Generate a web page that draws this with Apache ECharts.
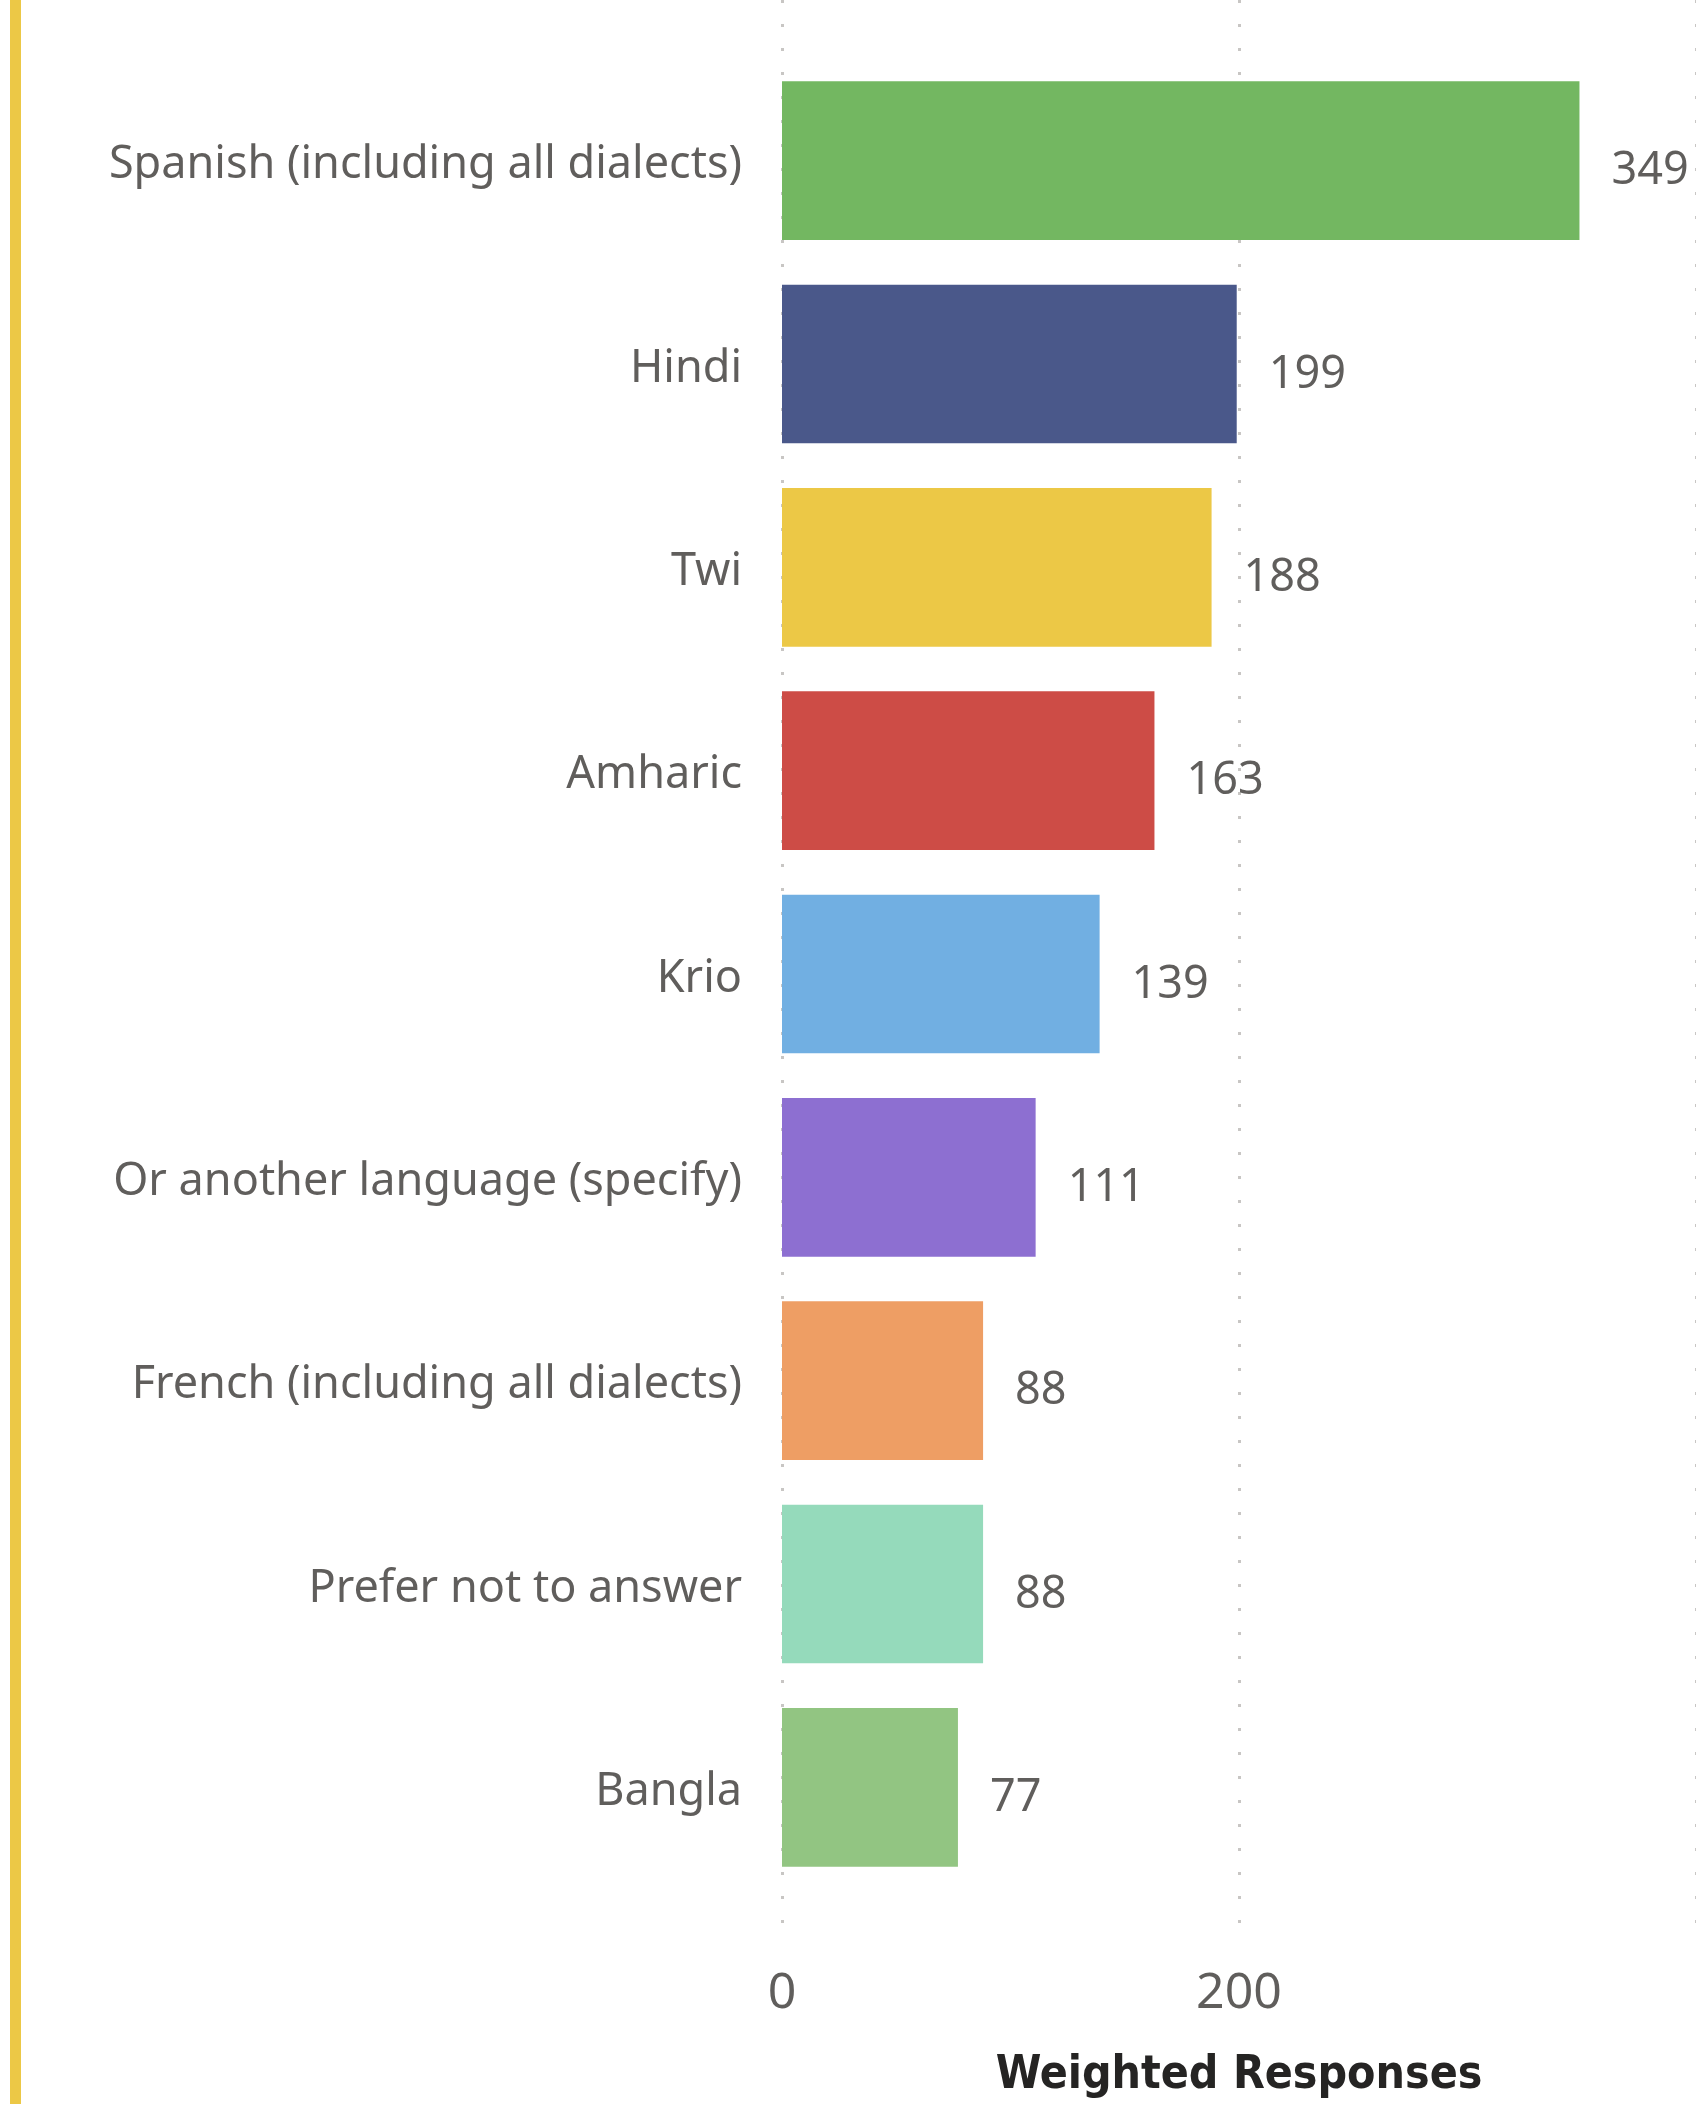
<!DOCTYPE html>
<html><head><meta charset="utf-8">
<script src="https://cdn.jsdelivr.net/npm/echarts@6/dist/echarts.min.js"></script>
<style>html,body{margin:0;padding:0;background:#fff}#c{width:1696px;height:2104px}</style>
</head><body><div id="c"></div>
<script>
const categories = ["Spanish (including all dialects)","Hindi","Twi","Amharic","Krio","Or another language (specify)","French (including all dialects)","Prefer not to answer","Bangla"];
const values = [349,199,188,163,139,111,88,88,77];
const colors = ["#73B761","#4A588A","#ECC846","#CD4C46","#71AFE2","#8D6FD1","#EE9E64","#95DABB","#92C582"];
const axisMax = 400;
const tickInterval = 200;
const axisTitle = "Weighted Responses";

const chart = echarts.init(document.getElementById('c'));
const font = "'Noto Sans', 'Open Sans', sans-serif";
chart.setOption({
  animation:false,
  graphic:[{type:'rect',left:10,top:0,shape:{width:11,height:2104},style:{fill:'#ECC846'}}],
  grid:[
    {left:782,top:59,width:918,height:1830},
    {left:782,top:0,width:918,height:1952}
  ],
  xAxis:[
    {gridIndex:0,type:'value',min:0,max:axisMax,interval:tickInterval,show:false,splitLine:{show:false}},
    {gridIndex:1,type:'value',min:0,max:axisMax,interval:tickInterval,
     axisLine:{show:false},axisTick:{show:false},
     splitLine:{show:true,lineStyle:{color:'#C8C6C4',width:3,type:[3,21]}},
     axisLabel:{showMaxLabel:false,color:'#605E5C',fontSize:50,fontFamily:font,margin:30},
     name:axisTitle,nameLocation:'middle',nameGap:114,
     nameTextStyle:{color:'#252423',fontSize:46,fontWeight:'bold',fontFamily:"'DejaVu Sans Condensed','Roboto',sans-serif"}}
  ],
  yAxis:[
    {gridIndex:0,type:'category',data:categories,inverse:true,
     axisLine:{show:false},axisTick:{show:false},splitLine:{show:false},
     axisLabel:{margin:40,formatter:v=>'{a|'+v+'}',
       rich:{a:{color:'#605E5C',fontSize:45,fontFamily:font,padding:[10,0,0,0]}}}},
    {gridIndex:1,type:'value',min:0,max:1,show:false}
  ],
  series:[
    {type:'bar',xAxisIndex:0,yAxisIndex:0,barCategoryGap:'22%',
     data:values.map((v,i)=>({value:v,itemStyle:{color:colors[i]}})),
     label:{show:true,position:'right',distance:32,color:'#605E5C',fontSize:45,fontFamily:font,offset:[0,11]}},
    {type:'scatter',xAxisIndex:1,yAxisIndex:1,data:[],silent:true}
  ]
});
</script></body></html>
